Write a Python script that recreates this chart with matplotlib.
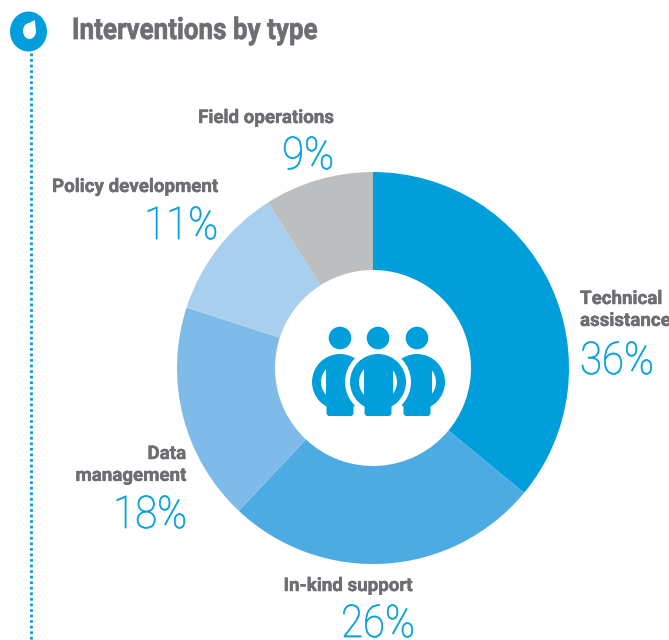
import matplotlib

matplotlib.use("Agg")
from matplotlib import pyplot as plt
from matplotlib.patches import Circle, Ellipse, FancyBboxPatch, Polygon, Rectangle
from matplotlib.patheffects import AbstractPathEffect, withStroke
from matplotlib.transforms import Affine2D

WIDTH, HEIGHT = 669, 640

categories = ["Technical\nassistance", "In-kind support", "Data\nmanagement", "Policy development", "Field operations"]
shares = [36, 26, 18, 11, 9]
colors = ["#009FDC", "#4BABE2", "#7FBBE8", "#A9CFEF", "#BCBEC0"]
title = "Interventions by type"

# label anchor (x, top y, alignment) and percentage anchor (x, baseline y) in picture pixels
label_pos = [(580, 290, "left"), (348, 577, "center"), (186, 445, "right"), (135, 178, "center"), (266, 109, "center")]
pct_pos = [(617, 374), (378, 637), (150, 528), (181, 239), (308, 169)]

BLUE = "#009FDC"
GREY = "#6D6E71"


class CondenseX(AbstractPathEffect):
    """Squeeze text sideways round x0, there is no condensed Roboto installed."""

    def __init__(self, x0, scale, stroke=0.0):
        super().__init__()
        self.x0 = x0
        self.scale = scale
        self.stroke = stroke

    def draw_path(self, renderer, gc, tpath, affine, rgbFace=None):
        squeeze = Affine2D().translate(-self.x0, 0).scale(self.scale, 1).translate(self.x0, 0)
        gc0 = renderer.new_gc()
        gc0.copy_properties(gc)
        # thin outline in the text colour, the original weight is a bit heavier
        gc0.set_linewidth(self.stroke)
        gc0.set_foreground(rgbFace)
        renderer.draw_path(gc0, tpath, affine + squeeze, rgbFace)
        gc0.restore()


def flip(y):
    return HEIGHT - y


def draw_person(ax, cx, zorder):
    head_y, body_y = 338, 382
    ax.add_patch(Circle((cx, flip(head_y)), 11.3, color=BLUE, lw=0, zorder=zorder))
    ax.add_patch(Circle((cx, flip(body_y)), 28, color=BLUE, lw=0, zorder=zorder))
    ax.add_patch(Circle((cx, flip(body_y)), 19, color="white", lw=0, zorder=zorder))
    ax.add_patch(Rectangle((cx - 14.5, flip(405)), 29, 47, color=BLUE, lw=0, zorder=zorder))
    ax.add_patch(
        FancyBboxPatch(
            (cx - 13.5, flip(416)),
            27,
            16,
            boxstyle="round,pad=0,rounding_size=3",
            color=BLUE,
            lw=0,
            zorder=zorder,
        )
    )


def main():
    fig = plt.figure(figsize=(WIDTH / 100, HEIGHT / 100), dpi=100)
    ax = fig.add_axes([0, 0, 1, 1])

    ax.pie(
        shares,
        colors=colors,
        center=(373, flip(368)),
        radius=196,
        startangle=90,
        counterclock=False,
        wedgeprops={"width": 98, "linewidth": 0},
        frame=True,
    )
    ax.axis("off")
    ax.set_xlim(0, WIDTH)
    ax.set_ylim(0, HEIGHT)
    ax.set_aspect("auto")

    # three people icon, the side ones sit behind a white halo round the middle one
    draw_person(ax, 340, 3)
    draw_person(ax, 417, 3)
    ax.add_patch(Circle((378, flip(382)), 33, color="white", lw=0, zorder=4))
    draw_person(ax, 378, 5)

    # header marker and dotted line
    ax.add_patch(Ellipse((28.5, flip(31.5)), 37, 40, color=BLUE, lw=0, zorder=3))
    ax.add_patch(Ellipse((29.5, flip(31)), 13, 16, color="white", lw=0, zorder=4))
    ax.add_patch(Polygon([(27, flip(24)), (35, flip(20)), (35.5, flip(29))], color="white", lw=0, zorder=4))
    ax.plot([30.7, 30.7], [flip(53), flip(640)], color=BLUE, lw=2, ls=(0, (1, 1)), zorder=2)

    ax.text(
        72,
        flip(39),
        title,
        family="Roboto",
        weight="bold",
        fontsize=21.5,
        color=GREY,
        ha="left",
        va="baseline",
        path_effects=[CondenseX(72, 0.87, stroke=0.5)],
    )

    for name, (x, y, ha) in zip(categories, label_pos):
        ax.text(
            x,
            flip(y),
            name,
            family="Roboto",
            weight="bold",
            fontsize=13.5,
            color=GREY,
            ha=ha,
            va="top",
            multialignment=ha,
            linespacing=1.28,
            path_effects=[withStroke(linewidth=0.3, foreground=GREY)],
        )

    for share, (x, y) in zip(shares, pct_pos):
        ax.text(
            x,
            flip(y),
            f"{share}%",
            family="Roboto",
            weight="light",
            fontsize=32.5,
            color=BLUE,
            ha="center",
            va="baseline",
            path_effects=[CondenseX(x, 0.89, stroke=0.5)],
        )

    fig.savefig("out.png", dpi=100)


if __name__ == "__main__":
    main()
